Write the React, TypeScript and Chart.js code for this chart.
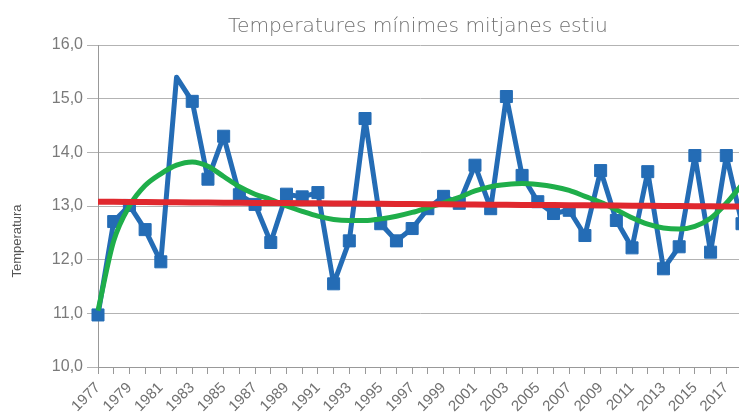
import React, { useEffect, useRef } from "react";
import { Chart, registerables } from "chart.js";

Chart.register(...registerables);

const years: string[] = [
  "1977","1978","1979","1980","1981","1982","1983","1984","1985","1986",
  "1987","1988","1989","1990","1991","1992","1993","1994","1995","1996",
  "1997","1998","1999","2000","2001","2002","2003","2004","2005","2006",
  "2007","2008","2009","2010","2011","2012","2013","2014","2015","2016",
  "2017","2018",
];

const tempMin: number[] = [
  10.97, 12.71, 13.01, 12.56, 11.96, 15.4, 14.95, 13.5, 14.3, 13.21,
  13.03, 12.32, 13.22, 13.17, 13.25, 11.55, 12.35, 14.63, 12.67, 12.35,
  12.58, 12.95, 13.18, 13.05, 13.76, 12.95, 15.04, 13.57, 13.08, 12.86,
  12.92, 12.45, 13.66, 12.73, 12.22, 13.64, 11.83, 12.24, 13.94, 12.14,
  13.94, 12.67,
];

const polyTrend: number[] = [
  11.05, 12.35, 13.0, 13.38, 13.6, 13.76, 13.82, 13.74, 13.55, 13.36,
  13.22, 13.12, 13.0, 12.9, 12.81, 12.75, 12.73, 12.73, 12.76, 12.81,
  12.88, 12.97, 13.06, 13.16, 13.28, 13.36, 13.4, 13.42, 13.4, 13.36,
  13.29, 13.18, 13.07, 12.93, 12.78, 12.66, 12.59, 12.57, 12.62, 12.77,
  13.05, 13.4,
];

const linearTrend: number[] = [13.08, 12.99];

const yTicks: number[] = [10, 11, 12, 13, 14, 15, 16];

const titleText = "Temperatures mínimes mitjanes estiu";
const yTitleText = "Temperatura";

export default function App() {
  const canvasRef = useRef<HTMLCanvasElement | null>(null);

  useEffect(() => {
    if (!canvasRef.current) return;
    const n = years.length;
    const linData = years.map((_, i) =>
      linearTrend[0] + ((linearTrend[1] - linearTrend[0]) * i) / (n - 1)
    );
    const radii = tempMin.map((_, i) => (i === 5 ? 0 : 8.5));

    const textPlugin = {
      id: "texts",
      afterDraw(chart: any) {
        const ctx = chart.ctx;
        ctx.save();
        // chart title
        ctx.fillStyle = "#707070";
        ctx.textAlign = "center";
        ctx.textBaseline = "alphabetic";
        ctx.font = "200 20px 'DejaVu Sans', sans-serif";
        const w = ctx.measureText(titleText).width;
        const size = (20 * 380) / w;
        ctx.font = `200 ${size.toFixed(2)}px 'DejaVu Sans', sans-serif`;
        ctx.fillText(titleText, 410, 24);
        // y axis title
        ctx.translate(9, 233);
        ctx.rotate(-Math.PI / 2);
        ctx.font = "13px 'Liberation Sans', Arial, sans-serif";
        ctx.fillStyle = "#555555";
        ctx.textAlign = "center";
        ctx.textBaseline = "middle";
        ctx.fillText(yTitleText, 0, 0);
        ctx.restore();
      },
    };

    const chart = new Chart(canvasRef.current, {
      type: "line",
      data: {
        labels: years,
        datasets: [
          {
            label: "Tendència lineal",
            data: linData,
            borderColor: "#e0282e",
            borderWidth: 6,
            pointRadius: 0,
            fill: false,
            tension: 0,
          },
          {
            label: "Tendència polinòmica",
            data: polyTrend,
            borderColor: "#1fae4a",
            borderWidth: 5,
            pointRadius: 0,
            fill: false,
            cubicInterpolationMode: "monotone",
          },
          {
            label: "Temperatura",
            data: tempMin,
            borderColor: "#246cb5",
            backgroundColor: "#246cb5",
            borderWidth: 5,
            borderJoinStyle: "round",
            pointStyle: "rect",
            pointRadius: radii,
            pointBorderWidth: 1,
            pointBackgroundColor: "#246cb5",
            pointBorderColor: "#246cb5",
            fill: false,
            tension: 0,
          },
        ],
      },
      options: {
        responsive: false,
        animation: false,
        layout: { padding: { left: 0, right: 86, top: 37, bottom: 0 } },
        plugins: {
          legend: { display: false },
          tooltip: { enabled: false },
          title: { display: false },
        },
        scales: {
          x: {
            type: "category",
            offset: false,
            grid: {
              display: true,
              drawOnChartArea: false,
              drawTicks: true,
              tickLength: 7,
              color: "#999999",
            },
            border: { display: true, color: "#999999", width: 1 },
            ticks: {
              autoSkip: false,
              minRotation: 45,
              maxRotation: 45,
              padding: 5,
              color: "#707070",
              font: { family: "'Liberation Sans', Arial, sans-serif", size: 15 },
              callback: function (_v: any, i: number) {
                return i % 2 === 0 ? years[i] : "";
              },
            },
            afterFit(scale: any) {
              scale.height = 61;
            },
          },
          y: {
            min: yTicks[0],
            max: yTicks[yTicks.length - 1],
            grid: {
              color: "#b3b3b3",
              lineWidth: 1,
              drawTicks: true,
              tickLength: 11,
            },
            border: { display: true, color: "#999999", width: 1 },
            afterBuildTicks(scale: any) {
              scale.ticks = yTicks.map((v) => ({ value: v }));
            },
            ticks: {
              padding: 4,
              color: "#7a7a7a",
              font: { family: "'Liberation Sans', Arial, sans-serif", size: 16 },
              callback: function (v: any) {
                return Number(v).toFixed(1).replace(".", ",");
              },
            },
            afterFit(scale: any) {
              scale.width = 90;
            },
          },
        },
      },
      plugins: [textPlugin],
    } as any);

    return () => {
      chart.destroy();
    };
  }, []);

  return (
    <div
      style={{
        position: "fixed",
        left: 8,
        top: 8,
        width: 731,
        height: 410,
        overflow: "hidden",
        background: "#ffffff",
      }}
    >
      <canvas ref={canvasRef} width={820} height={420} style={{ display: "block" }} />
    </div>
  );
}
